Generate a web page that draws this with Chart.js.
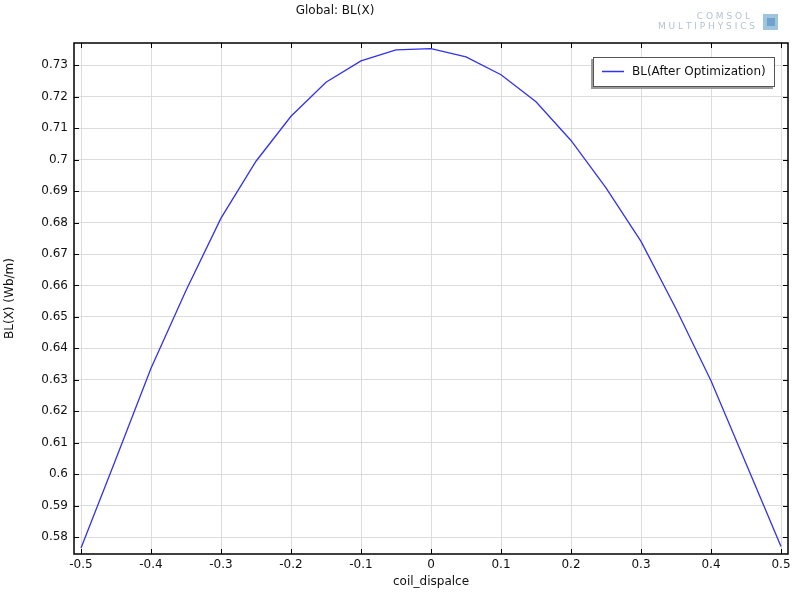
<!DOCTYPE html>
<html>
<head>
<meta charset="utf-8">
<script src="https://cdn.jsdelivr.net/npm/chart.js@4/dist/chart.umd.min.js"></script>
<style>
  html, body { margin: 0; padding: 0; background: #fff; }
  #wrap { width: 800px; height: 600px; }
</style>
</head>
<body>
<div id="wrap"><canvas id="myChart" width="800" height="600"></canvas></div>
<script>
// data
var coil_x = [-0.5, -0.45, -0.4, -0.35, -0.3, -0.25, -0.2, -0.15, -0.1, -0.05, 0,
              0.05, 0.1, 0.15, 0.2, 0.25, 0.3, 0.35, 0.4, 0.45, 0.5];
var bl_values = [0.5765, 0.6049, 0.6337, 0.6584, 0.6814, 0.6995, 0.7138, 0.7246, 0.7314, 0.7349, 0.7353,
                 0.7327, 0.7270, 0.7184, 0.7061, 0.6910, 0.6740, 0.6526, 0.6297, 0.6034, 0.5770];
var x_ticks = [-0.5, -0.4, -0.3, -0.2, -0.1, 0, 0.1, 0.2, 0.3, 0.4, 0.5];
var y_ticks = [0.58, 0.59, 0.6, 0.61, 0.62, 0.63, 0.64, 0.65, 0.66, 0.67, 0.68, 0.69, 0.7, 0.71, 0.72, 0.73];

var series_label = 'BL(After Optimization)';
var chart_title = 'Global: BL(X)';
var line_color = 'rgb(50, 50, 235)';
var font_family = '"DejaVu Sans", sans-serif';

let points = [];
for (var i = 0; i < coil_x.length; i++) {
  points.push({ x: coil_x[i], y: bl_values[i] });
}

function fmt(v) {
  return String(parseFloat(v.toFixed(3)));
}

// frame, inward ticks, legend, title and logo (COMSOL look)
const comsolDecor = {
  id: 'comsolDecor',
  afterDraw(chart) {
    let ctx = chart.ctx;
    let a = chart.chartArea;
    let xs = chart.scales.x;
    let ys = chart.scales.y;
    ctx.save();

    ctx.strokeStyle = '#000';
    ctx.lineWidth = 1;
    ctx.beginPath();
    x_ticks.forEach(function (t) {
      let px = Math.round(xs.getPixelForValue(t)) + 0.5;
      ctx.moveTo(px, a.bottom); ctx.lineTo(px, a.bottom - 5);
      ctx.moveTo(px, a.top); ctx.lineTo(px, a.top + 5);
    });
    y_ticks.forEach(function (t) {
      let py = Math.round(ys.getPixelForValue(t)) + 0.5;
      ctx.moveTo(a.left, py); ctx.lineTo(a.left + 5, py);
      ctx.moveTo(a.right, py); ctx.lineTo(a.right - 5, py);
    });
    ctx.stroke();
    ctx.lineWidth = 1.5;
    ctx.strokeRect(a.left, a.top, a.right - a.left, a.bottom - a.top);

    // legend box
    let lx = 593, ly = 57, lw = 182, lh = 30;
    ctx.fillStyle = '#9a9a9a';
    ctx.fillRect(lx - 2, ly + 2, lw, lh);
    ctx.fillStyle = '#fff';
    ctx.fillRect(lx, ly, lw, lh);
    ctx.strokeStyle = '#555';
    ctx.lineWidth = 1;
    ctx.strokeRect(lx + 0.5, ly + 0.5, lw - 1, lh - 1);
    ctx.strokeStyle = chart.data.datasets[0].borderColor;
    ctx.lineWidth = 1.5;
    ctx.beginPath();
    ctx.moveTo(602, 71.5); ctx.lineTo(624, 71.5);
    ctx.stroke();
    ctx.fillStyle = '#111';
    ctx.font = '12px ' + font_family;
    ctx.textBaseline = 'middle';
    ctx.textAlign = 'left';
    ctx.fillText(chart.data.datasets[0].label, 632, 72);

    // title
    ctx.textAlign = 'center';
    ctx.fillText(chart_title, 335, 11);

    // logo
    ctx.fillStyle = '#b4c2d2';
    ctx.font = '9px ' + font_family;
    ctx.textAlign = 'right';
    ctx.fillText('C O M S O L', 750, 17);
    ctx.fillText('M U L T I P H Y S I C S', 755, 27);
    ctx.fillStyle = '#9fc4de';
    ctx.fillRect(763, 14, 15, 16);
    ctx.fillStyle = '#6fa3cc';
    ctx.fillRect(767, 18, 8, 8);
    ctx.restore();
  }
};

const config = {
  type: 'line',
  data: {
    datasets: [{
      label: series_label,
      data: points,
      borderColor: line_color,
      backgroundColor: line_color,
      borderWidth: 1.3,
      pointRadius: 0,
      tension: 0,
      fill: false
    }]
  },
  options: {
    responsive: false,
    animation: false,
    layout: {
      padding: { top: 43, right: 12, bottom: 0, left: 0 }
    },
    plugins: {
      legend: { display: false },
      title: { display: false },
      tooltip: { enabled: false }
    },
    scales: {
      x: {
        type: 'linear',
        min: -0.51,
        max: 0.51,
        afterBuildTicks: function (scale) {
          scale.ticks = x_ticks.map(function (v) { return { value: v }; });
        },
        afterFit: function (scale) { scale.height = 46; },
        grid: { color: '#dcdcdc', drawTicks: false },
        border: { display: false },
        ticks: {
          color: '#111',
          padding: 4,
          maxRotation: 0,
          autoSkip: false,
          font: { family: font_family, size: 12 },
          callback: function (v) { return fmt(v); }
        },
        title: {
          display: true,
          text: 'coil_dispalce',
          color: '#111',
          font: { family: font_family, size: 12 },
          padding: { top: 0, bottom: 10.8 }
        }
      },
      y: {
        type: 'linear',
        min: 0.5746,
        max: 0.7371,
        afterBuildTicks: function (scale) {
          scale.ticks = y_ticks.map(function (v) { return { value: v }; });
        },
        afterFit: function (scale) { scale.width = 74; },
        grid: { color: '#dcdcdc', drawTicks: false },
        border: { display: false },
        ticks: {
          color: '#111',
          padding: 6,
          autoSkip: false,
          font: { family: font_family, size: 12 },
          callback: function (v) { return fmt(v); }
        },
        title: {
          display: true,
          text: 'BL(X) (Wb/m)',
          color: '#111',
          font: { family: font_family, size: 12 },
          padding: { top: 2.8, bottom: 0 }
        }
      }
    }
  },
  plugins: [comsolDecor]
};

var myChart = new Chart(document.getElementById('myChart'), config);
</script>
</body>
</html>
